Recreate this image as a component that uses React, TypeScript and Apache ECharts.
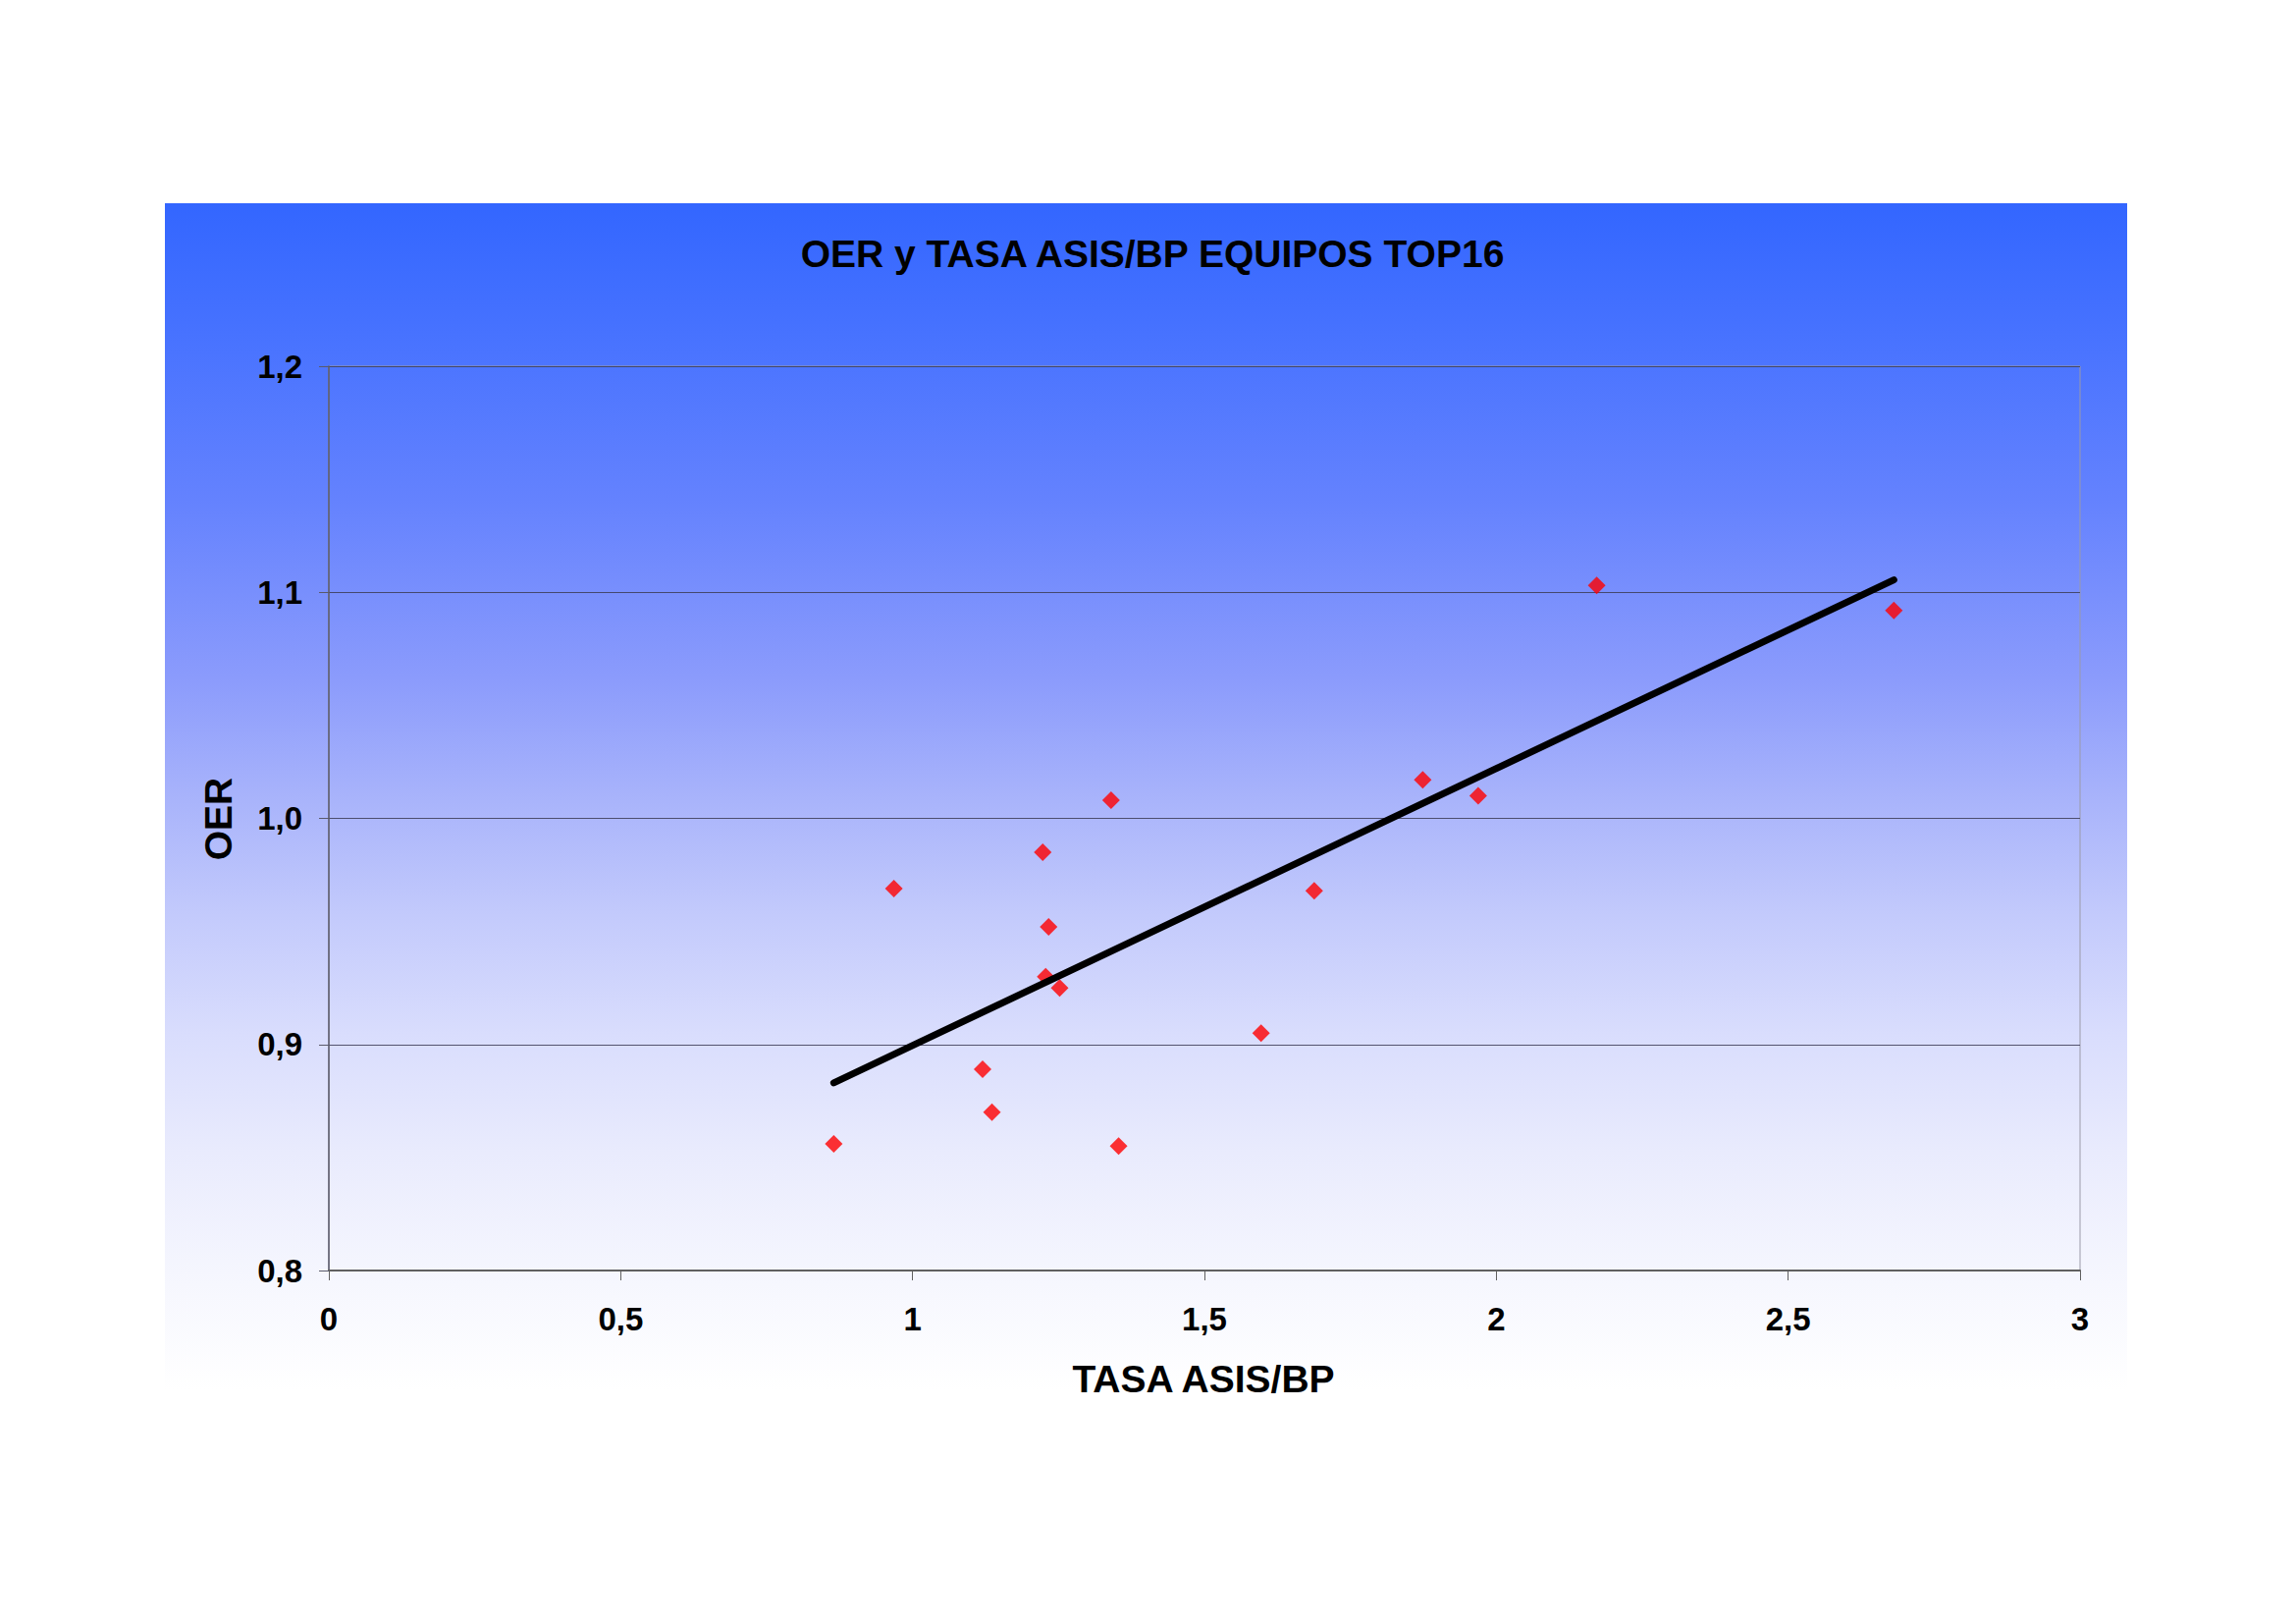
import React, { useEffect, useRef } from "react";
import * as echarts from "echarts";

// ---- Data ----
const CHART_TITLE = "OER y TASA ASIS/BP EQUIPOS TOP16";
const X_TITLE = "TASA ASIS/BP";
const Y_TITLE = "OER";

// TASA ASIS/BP (x) and OER (y) for the 16 teams
const ASIS_BP = [0.865, 0.968, 1.12, 1.136, 1.223, 1.228, 1.233, 1.252, 1.34, 1.353, 1.597, 1.688, 1.874, 1.969, 2.172, 2.681];
const OER = [0.856, 0.969, 0.889, 0.87, 0.985, 0.93, 0.952, 0.925, 1.008, 0.855, 0.905, 0.968, 1.017, 1.01, 1.103, 1.092];

// Linear trend line end points
const TREND_X = [0.865, 2.681];
const TREND_Y = [0.883, 1.1055];

// Axis ranges
const X_MIN = 0;
const X_MAX = 3;
const X_STEP = 0.5;
const Y_MIN = 0.8;
const Y_MAX = 1.2;
const Y_STEP = 0.1;

const FONT = "'Liberation Sans', Arial, Helvetica, sans-serif";

const fmtX = (v: number) => {
  const r = Math.round(v * 1000) / 1000;
  if (Number.isInteger(r)) return String(r);
  return r.toFixed(1).replace(".", ",");
};
const fmtY = (v: number) => (Math.round(v * 1000) / 1000).toFixed(1).replace(".", ",");

export default function App() {
  const ref = useRef<HTMLDivElement>(null);

  useEffect(() => {
    if (!ref.current) return;
    const chart = echarts.init(ref.current, undefined, { renderer: "svg" });

    const points = ASIS_BP.map((x, i) => [x, OER[i]]);
    const trend = TREND_X.map((x, i) => [x, TREND_Y[i]]);

    const option: any = {
      animation: false,
      backgroundColor: "#ffffff",
      graphic: [
        {
          type: "rect",
          z: -10,
          shape: { x: 168, y: 207, width: 1999, height: 1209 },
          style: {
            fill: new echarts.graphic.LinearGradient(0, 0, 0, 1, [
              { offset: 0, color: "#3366FF" },
              { offset: 0.1, color: "#4571FF" },
              { offset: 0.25, color: "#6482FE" },
              { offset: 0.4, color: "#8B9BFC" },
              { offset: 0.5, color: "#A8B3FB" },
              { offset: 0.6, color: "#C3CAFC" },
              { offset: 0.7, color: "#D9DDFD" },
              { offset: 0.8, color: "#E9EBFD" },
              { offset: 0.9, color: "#F5F6FE" },
              { offset: 1, color: "#FFFFFF" },
            ]),
          },
        },
        {
          type: "text",
          z: 10,
          x: 1174,
          y: 258,
          style: {
            text: CHART_TITLE,
            fill: "#000",
            font: `bold 39px ${FONT}`,
            textAlign: "center",
            textVerticalAlign: "middle",
          },
        },
        {
          type: "text",
          z: 10,
          x: 1226,
          y: 1404,
          style: {
            text: X_TITLE,
            fill: "#000",
            font: `bold 39px ${FONT}`,
            textAlign: "center",
            textVerticalAlign: "middle",
          },
        },
        {
          type: "text",
          z: 10,
          x: 222,
          y: 834,
          rotation: Math.PI / 2,
          style: {
            text: Y_TITLE,
            fill: "#000",
            font: `bold 39px ${FONT}`,
            textAlign: "center",
            textVerticalAlign: "middle",
          },
        },
      ],
      grid: {
        left: 335,
        right: 220,
        top: 373,
        bottom: 359,
        show: true,
        backgroundColor: "transparent",
        borderColor: "#9a9aa8",
        borderWidth: 1,
      },
      xAxis: {
        type: "value",
        min: X_MIN,
        max: X_MAX,
        interval: X_STEP,
        axisLine: { show: true, onZero: false, lineStyle: { color: "#606060", width: 2 } },
        axisTick: { show: true, inside: false, length: 10, lineStyle: { color: "#606060", width: 1 } },
        axisLabel: {
          margin: 33,
          color: "#000",
          fontSize: 33,
          fontWeight: "bold",
          fontFamily: FONT,
          formatter: fmtX,
        },
        splitLine: { show: false },
      },
      yAxis: {
        type: "value",
        min: Y_MIN,
        max: Y_MAX,
        interval: Y_STEP,
        axisLine: { show: true, onZero: false, lineStyle: { color: "#5a5a6a", width: 1.5 } },
        axisTick: { show: true, inside: false, length: 10, lineStyle: { color: "#5a5a6a", width: 1 } },
        axisLabel: {
          margin: 27,
          color: "#000",
          fontSize: 33,
          fontWeight: "bold",
          fontFamily: FONT,
          formatter: fmtY,
        },
        splitLine: { show: true, lineStyle: { color: "#3c3c55", width: 1, opacity: 0.85 } },
      },
      series: [
        {
          type: "scatter",
          name: "OER",
          data: points,
          symbol: "diamond",
          symbolSize: 18,
          itemStyle: { color: "#FF0000" },
          z: 3,
        },
        {
          type: "line",
          name: "Tendencia",
          data: trend,
          showSymbol: false,
          symbol: "none",
          lineStyle: { color: "#000000", width: 7, cap: "round" },
          z: 4,
        },
      ],
    };

    chart.setOption(option);
    return () => chart.dispose();
  }, []);

  return (
    <div
      ref={ref}
      style={{ position: "fixed", left: 0, top: 0, width: 2339, height: 1653 }}
    />
  );
}
